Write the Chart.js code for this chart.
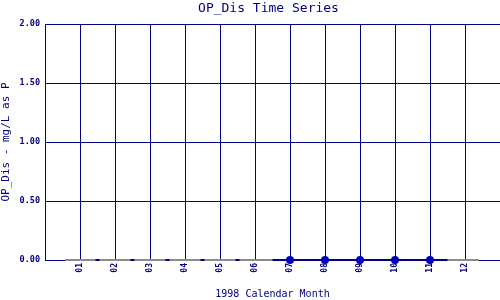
<!DOCTYPE html>
<html>
<head>
<meta charset="utf-8">
<script src="https://cdn.jsdelivr.net/npm/chart.js@4"></script>
<style>
html,body{margin:0;padding:0;background:#fff;}
#wrap{width:500px;height:300px;}
</style>
</head>
<body>
<div id="wrap"><canvas id="c" width="500" height="300"></canvas></div>
<script>
const months = [1,2,3,4,5,6,7,8,9,10,11,12];
const monthLabels = ['01','02','03','04','05','06','07','08','09','10','11','12'];
const opDis = [null,null,null,null,null,null,0,0,0,0,0,null];
const yTicks = [0,0.5,1.0,1.5,2.0];

const NAVY = '#000080';
const PT = '#0000c0';
const GRAY = '#8c8c8c';
const MONO = '"DejaVu Sans Mono", "Liberation Mono", monospace';

const titleCenterPlugin = {
  id: 'titleCenter',
  afterLayout(chart) {
    const t = chart.titleBlock;
    if (t) {
      t.left = chart.chartArea.left - 8;
      t.right = chart.chartArea.right;
      t.width = t.right - t.left;
    }
  }
};

const baselinePlugin = {
  id: 'baseline',
  afterDatasetsDraw(chart) {
    const {ctx, scales:{x, y}} = chart;
    const y0 = Math.round(y.getPixelForValue(0));
    ctx.save();
    ctx.lineWidth = 2;
    ctx.strokeStyle = GRAY;
    ctx.beginPath();
    ctx.moveTo(x.getPixelForValue(0.57), y0);
    ctx.lineTo(x.getPixelForValue(12.4), y0);
    ctx.stroke();
    ctx.strokeStyle = NAVY;
    for (let k = 1; k <= 5; k++) {
      const px = x.getPixelForValue(k + 0.5);
      ctx.beginPath(); ctx.moveTo(px - 2, y0); ctx.lineTo(px + 2, y0); ctx.stroke();
    }
    const idx = opDis.map((v,i)=>v===null?-1:i).filter(i=>i>=0);
    if (idx.length) {
      ctx.beginPath();
      ctx.moveTo(x.getPixelForValue(months[idx[0]] - 0.5), y0);
      ctx.lineTo(x.getPixelForValue(months[idx[idx.length-1]] + 0.5), y0);
      ctx.stroke();
    }
    const meta = chart.getDatasetMeta(0);
    ctx.fillStyle = PT;
    meta.data.forEach((pt, i) => {
      if (opDis[i] === null) return;
      ctx.beginPath(); ctx.arc(pt.x, y0, 4, 0, Math.PI*2); ctx.fill();
    });
    ctx.restore();
  }
};

new Chart(document.getElementById('c'), {
  type: 'line',
  data: {
    datasets: [{
      data: months.map((m,i)=>({x:m, y:opDis[i]})),
      borderColor: NAVY,
      backgroundColor: PT,
      pointBackgroundColor: PT,
      pointBorderWidth: 0,
      pointRadius: 0,
      borderWidth: 2,
      spanGaps: false,
      clip: false
    }]
  },
  plugins: [titleCenterPlugin, baselinePlugin],
  options: {
    responsive: false,
    animation: false,
    devicePixelRatio: 1,
    layout: {padding: {left:0, right:0, top:0, bottom:0}},
    plugins: {
      legend: {display:false},
      tooltip: {enabled:false},
      title: {
        display: true,
        text: 'OP_Dis Time Series',
        color: NAVY,
        font: {family: MONO, size: 13, weight: 'normal', lineHeight: 1.2},
        padding: {top: 1, bottom: 7.4}
      }
    },
    scales: {
      x: {
        type: 'linear',
        min: 0, max: 13,
        afterFit(s){ s.height = 40; s.paddingLeft = 0; s.paddingRight = 0; },
        afterBuildTicks(s){ s.ticks = Array.from({length:14},(_,i)=>({value:i})); },
        border: {display: true, color: NAVY, width: 1},
        grid: {color: NAVY, lineWidth: 1, drawTicks: false},
        ticks: {
          autoSkip: false,
          minRotation: 90, maxRotation: 90,
          padding: 3,
          color: NAVY,
          font: {family: MONO, size: 8, weight: 'bold'},
          callback: (v) => (v>=1 && v<=12) ? monthLabels[v-1] : ''
        },
        title: {
          display: true,
          text: '1998 Calendar Month',
          color: NAVY,
          font: {family: MONO, size: 10},
          padding: {top:0, bottom:0}
        }
      },
      y: {
        min: 0, max: 2,
        afterFit(s){ s.width = 45; s.paddingTop = 0; s.paddingBottom = 0; },
        afterBuildTicks(s){ s.ticks = yTicks.map(v=>({value:v})); },
        border: {display: true, color: NAVY, width: 1},
        grid: {color: NAVY, lineWidth: 1, drawTicks: false},
        ticks: {
          padding: 5,
          color: NAVY,
          font: {family: MONO, size: 8.5, weight: 'bold'},
          callback: (v) => Number(v).toFixed(2)
        },
        title: {
          display: true,
          text: 'OP_Dis - mg/L as P',
          color: NAVY,
          font: {family: MONO, size: 11},
          padding: {top:0, bottom:0}
        }
      }
    }
  }
});
</script>
</body>
</html>
